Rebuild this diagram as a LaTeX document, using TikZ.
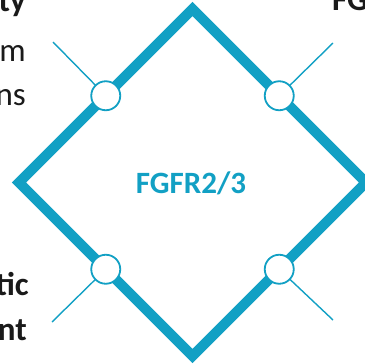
\documentclass[tikz,border=0pt]{standalone}
\usepackage{fontspec}
\setmainfont{Carlito}
\definecolor{fgblue}{RGB}{18,160,196}
\definecolor{ink}{RGB}{26,26,26}
\tikzset{
  frame/.style={draw=fgblue, line width=10pt, line join=miter},
  port/.style={circle, draw=fgblue, line width=1.8pt, fill=white, minimum size=29pt, inner sep=0pt},
  lead/.style={draw=fgblue, line width=1.4pt},
  side/.style={font=\fontsize{33}{40}\selectfont, text=ink, inner sep=0pt},
}
\begin{document}
\begin{tikzpicture}[x=1pt, y=-1pt]
\useasboundingbox (0,0) rectangle (365,364);
\clip (0,0) rectangle (365,364);
% receptor frame
\coordinate (T) at (192.5,9);
\coordinate (R) at (366,182.5);
\coordinate (B) at (192.5,356);
\coordinate (L) at (19,182.5);
\draw[frame] (T) -- (R) -- (B) -- (L) -- cycle;
\node[font=\fontsize{31}{36}\selectfont\bfseries, text=fgblue] (lab) at (191,183) {FGFR2/3};
% leads ending at free points
\coordinate (eUL) at (53,42);
\coordinate (eUR) at (333,43);
\coordinate (eLL) at (52,322);
\coordinate (eLR) at (333,320);
\draw[lead] (105.75,95.75) -- (eUL);
\draw[lead] (279.25,95.75) -- (eUR);
\draw[lead] (105.75,269.25) -- (eLL);
\draw[lead] (279.25,269.25) -- (eLR);
% ports on the edges
\node[port] (pUL) at (105.75,95.75) {};
\node[port] (pUR) at (279.25,95.75) {};
\node[port] (pLL) at (105.75,269.25) {};
\node[port] (pLR) at (279.25,269.25) {};
% side captions
\node[side, font=\fontsize{33}{40}\selectfont\bfseries, anchor=base east] (t1) at (26,12) {ty};
\node[side, anchor=base east] (t2) at (26,61) {m};
\node[side, anchor=base east] (t3) at (26,106) {ns};
\node[side, font=\fontsize{33}{40}\selectfont\bfseries, anchor=base east] (t4) at (29,295) {tic};
\node[side, font=\fontsize{33}{40}\selectfont\bfseries, anchor=base east] (t5) at (27,340) {nt};
\node[side, font=\fontsize{33}{40}\selectfont\bfseries, anchor=base west] (t6) at (332,10) {FG};
\end{tikzpicture}
\end{document}
